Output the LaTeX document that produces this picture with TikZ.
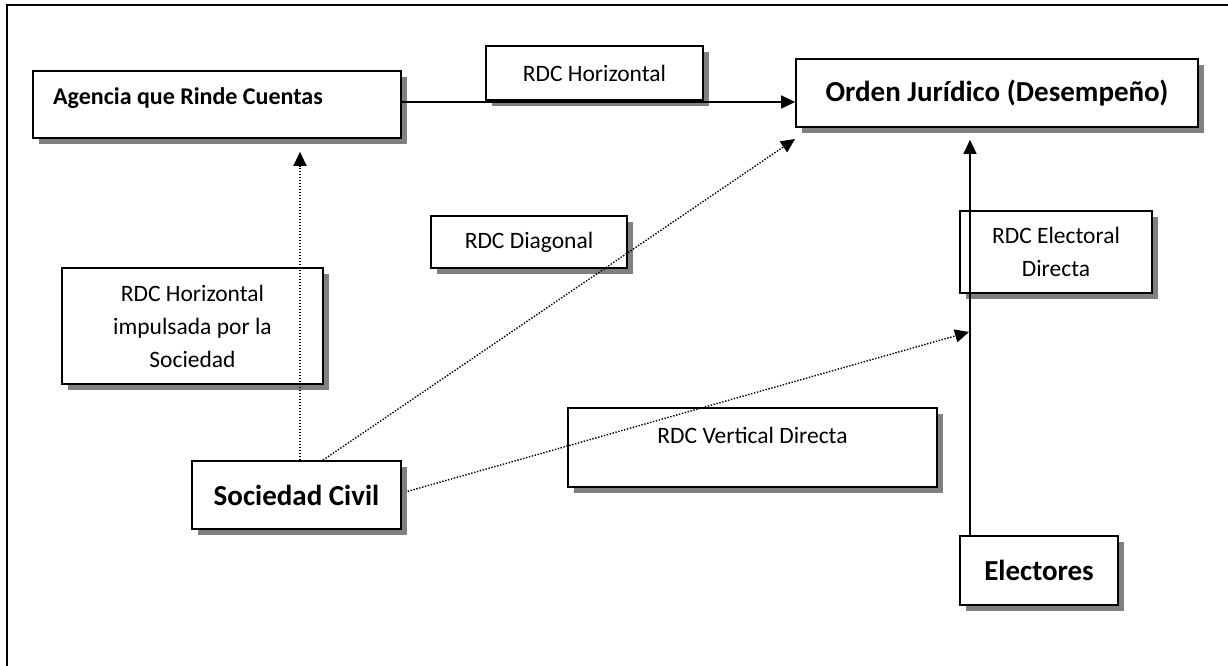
\documentclass[tikz,border=0pt]{standalone}
\usepackage{fontspec}
\setmainfont{Carlito}
\usetikzlibrary{arrows.meta,shadows}

\tikzset{
  box/.style={draw, line width=1.7pt, fill=white, inner sep=0pt, align=center,
    font=\fontsize{23.5}{33}\selectfont,
    drop shadow={shadow xshift=5.5pt, shadow yshift=-5.5pt, fill=black!50, opacity=1}},
  bigbox/.style={box, font=\fontsize{29}{34}\selectfont\bfseries},
  plain/.style={inner sep=0pt, font=\fontsize{23.5}{33}\selectfont},
  tip/.style={-{Triangle[length=14pt,width=13pt]}},
  solidlink/.style={tip, line width=1.4pt},
  dotlink/.style={tip, line width=1.4pt, dash pattern=on 1.4pt off 1.6pt}
}

\begin{document}
\begin{tikzpicture}[x=1pt, y=-1pt]
  \useasboundingbox (0,0) rectangle (1228,665);
  \clip (0,0) rectangle (1228,665);

  % outer frame, running past the right and bottom edges
  \draw[line width=1.8pt] (7,5) rectangle (1260,700);

  % boxes
  \node[box, minimum width=368pt, minimum height=67pt] (ag) at (217,104.5) {};
  \node[plain, anchor=west, font=\fontsize{24}{29}\selectfont\bfseries] (agt) at (53,98) {Agencia que Rinde Cuentas};
  \node[box, minimum width=217pt, minimum height=54pt] (rh) at (594.5,73) {RDC Horizontal};
  \node[bigbox, minimum width=402pt, minimum height=68pt] (or) at (997,93) {Orden Jurídico (Desempeño)};
  \node[box, minimum width=192pt, minimum height=82pt] (re) at (1056,252) {RDC Electoral\\Directa};
  \node[box, minimum width=196pt, minimum height=52pt] (rd) at (529,242) {RDC Diagonal};
  \node[box, minimum width=261pt, minimum height=116pt] (ri) at (192.5,326) {RDC Horizontal\\impulsada por la\\Sociedad};
  \node[bigbox, minimum width=209pt, minimum height=68pt] (sc) at (296.5,495) {Sociedad Civil};
  \node[box, minimum width=369pt, minimum height=79pt] (vd) at (752.5,447.5) {};
  \node[plain] (vdt) at (752.5,435) {RDC Vertical Directa};
  \node[bigbox, minimum width=158pt, minimum height=69pt] (el) at (1039,570.5) {Electores};

  % helper coordinates for the connector lines
  \coordinate (hz) at (0,102);
  \coordinate (vx) at (970,0);
  \coordinate (sx) at (300,0);
  \coordinate (dx) at (323,0);
  \coordinate (dgt) at (795,139);
  \coordinate (vdtip) at (969,332);

  % connectors
  \draw[solidlink] (ag.east |- hz) -- (or.west |- hz);
  \draw[solidlink, shorten >=12pt] (el.north -| vx) -- (or.south -| vx);
  \draw[dotlink, shorten >=13pt] (sc.north -| sx) -- (ag.south -| sx);
  \draw[dotlink] (sc.north -| dx) -- (dgt);
  \draw[dotlink, shorten <=6pt] (sc.east) ++(0,-2) -- (vdtip);
\end{tikzpicture}
\end{document}
